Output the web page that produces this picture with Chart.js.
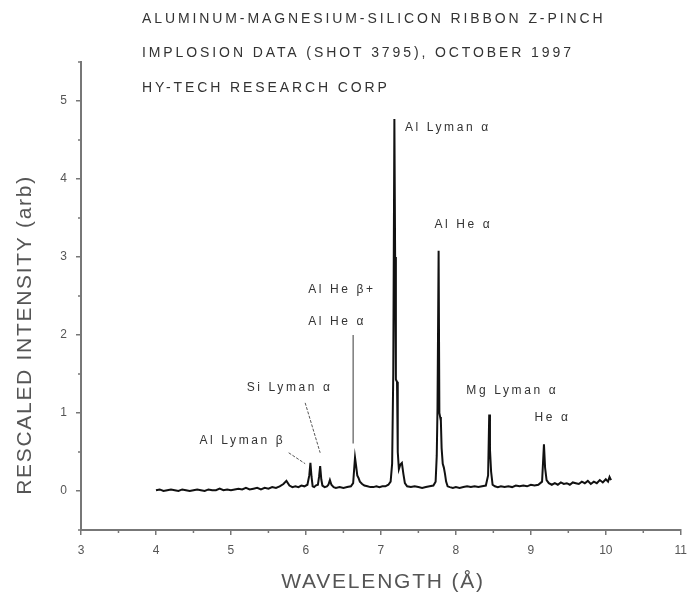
<!DOCTYPE html>
<html><head><meta charset="utf-8">
<script src="https://cdn.jsdelivr.net/npm/chart.js@4/dist/chart.umd.min.js"></script>
<style>html,body{margin:0;padding:0;background:#fff;}</style>
</head><body>
<canvas id="c" width="695" height="605"></canvas>
<script>
// ---- text ----
const titleLines = [
  "ALUMINUM-MAGNESIUM-SILICON RIBBON Z-PINCH",
  "IMPLOSION DATA (SHOT 3795), OCTOBER 1997",
  "HY-TECH RESEARCH CORP"
];
const xAxisTitle = "WAVELENGTH (Å)";
const yAxisTitle = "RESCALED INTENSITY (arb)";

// ---- ticks ----
const xTicks = [3, 4, 5, 6, 7, 8, 9, 10, 11];
const xMinorTicks = [3.5, 4.5, 5.5, 6.5, 7.5, 8.5, 9.5, 10.5];
const yTicks = [0, 1, 2, 3, 4, 5];
const yMinorTicks = [-0.5, 0.5, 1.5, 2.5, 3.5, 4.5, 5.5];

// ---- spectrum ----
const wavelength = [
  4.00,4.05,4.10,4.15,4.20,4.25,4.30,4.35,4.40,4.45,4.50,4.55,4.60,4.65,4.70,4.75,4.80,4.85,4.90,4.95,
  5.00,5.05,5.10,5.15,5.20,5.25,5.30,5.35,5.40,5.45,5.50,5.55,5.60,5.65,5.70,5.74,5.78,5.82,5.86,5.90,
  5.94,5.98,6.02,6.045,6.06,6.075,6.09,6.11,6.13,6.16,6.175,6.19,6.205,6.22,6.25,6.28,6.30,6.32,6.34,6.37,
  6.40,6.45,6.50,6.55,6.60,6.63,6.645,6.655,6.67,6.685,6.70,6.72,6.75,6.78,6.82,6.86,6.90,6.94,6.98,7.02,
  7.06,7.10,7.13,7.15,7.165,7.18,7.19,7.20,7.215,7.225,7.24,7.26,7.28,7.30,7.32,7.35,7.40,7.45,7.50,7.55,
  7.60,7.65,7.70,7.73,7.745,7.755,7.77,7.78,7.79,7.80,7.81,7.825,7.84,7.855,7.87,7.89,7.92,7.96,8.00,8.05,
  8.10,8.15,8.20,8.25,8.30,8.35,8.40,8.43,8.445,8.455,8.47,8.49,8.52,8.56,8.60,8.65,8.70,8.75,8.80,8.85,
  8.90,8.95,9.00,9.05,9.10,9.15,9.175,9.19,9.21,9.24,9.28,9.32,9.36,9.40,9.44,9.48,9.52,9.56,9.60,9.64,
  9.68,9.72,9.76,9.80,9.84,9.88,9.92,9.96,10.00,10.03,10.05,10.07
];
const intensity = [
  0.01,0.02,0.00,0.01,0.02,0.01,0.00,0.02,0.01,0.00,0.01,0.02,0.01,0.00,0.02,0.01,0.01,0.03,0.01,0.02,
  0.01,0.02,0.03,0.02,0.04,0.02,0.03,0.04,0.02,0.04,0.03,0.05,0.04,0.06,0.09,0.13,0.07,0.05,0.06,0.05,
  0.07,0.06,0.08,0.20,0.36,0.18,0.06,0.05,0.07,0.08,0.18,0.32,0.15,0.07,0.05,0.06,0.08,0.14,0.08,0.05,
  0.04,0.05,0.04,0.05,0.06,0.10,0.30,0.43,0.32,0.20,0.17,0.12,0.09,0.07,0.06,0.05,0.05,0.06,0.05,0.06,
  0.06,0.08,0.12,0.35,1.50,4.77,3.00,1.43,1.40,0.50,0.28,0.34,0.36,0.22,0.10,0.06,0.05,0.06,0.05,0.04,
  0.05,0.06,0.07,0.12,0.45,1.05,3.08,1.00,0.95,0.90,0.55,0.35,0.30,0.22,0.12,0.06,0.05,0.04,0.05,0.04,
  0.05,0.06,0.05,0.06,0.05,0.06,0.07,0.20,0.98,0.53,0.25,0.08,0.06,0.05,0.06,0.05,0.06,0.05,0.07,0.06,
  0.07,0.06,0.08,0.07,0.08,0.12,0.60,0.30,0.14,0.10,0.08,0.10,0.08,0.11,0.09,0.10,0.08,0.11,0.10,0.09,
  0.12,0.10,0.13,0.09,0.12,0.10,0.14,0.11,0.15,0.12,0.18,0.14
];

// ---- line identifications (data coordinates of label start) ----
const lineLabels = ["Al Lyman β", "Si Lyman α", "Al He β+", "Al He α", "Al Lyman α", "Al He α", "Mg Lyman α", "He α"];
const labelX = [4.58, 5.21, 6.03, 6.03, 7.32, 7.715, 8.14, 9.05];
const labelY = [0.65, 1.32, 2.575, 2.165, 4.66, 3.41, 1.29, 0.935];
// pointer lines [x1, y1, x2, y2] in data units
const pointerX1 = [5.77, 5.99, 6.63];
const pointerY1 = [0.49, 1.13, 2.00];
const pointerX2 = [5.99, 6.19, 6.63];
const pointerY2 = [0.35, 0.49, 0.61];

const AXIS_COLOR = '#777';
const TEXT_COLOR = '#333';

const decorPlugin = {
  id: 'decor',
  afterDraw(chart) {
    const ctx = chart.ctx;
    const xs = chart.scales.x, ys = chart.scales.y;
    ctx.save();
    // minor ticks
    ctx.strokeStyle = AXIS_COLOR;
    ctx.lineWidth = 1.5;
    ctx.beginPath();
    xMinorTicks.forEach(v => {
      const px = xs.getPixelForValue(v);
      ctx.moveTo(px, ys.bottom); ctx.lineTo(px, ys.bottom + 3);
    });
    yMinorTicks.forEach(v => {
      const py = ys.getPixelForValue(v);
      ctx.moveTo(xs.left, py); ctx.lineTo(xs.left - 3, py);
    });
    ctx.stroke();

    // title lines
    ctx.fillStyle = TEXT_COLOR;
    ctx.font = '14px Arial, "Liberation Sans", sans-serif';
    ctx.letterSpacing = '2.9px';
    ctx.textAlign = 'left';
    ctx.textBaseline = 'middle';
    const titleYs = [19, 53, 88];
    titleLines.forEach((t, i) => ctx.fillText(t, 142, titleYs[i]));

    // line labels
    ctx.font = '12px Arial, "Liberation Sans", sans-serif';
    ctx.letterSpacing = '2.6px';
    ctx.fillStyle = '#333';
    lineLabels.forEach((t, i) => {
      ctx.fillText(t, xs.getPixelForValue(labelX[i]), ys.getPixelForValue(labelY[i]));
    });

    // pointers
    ctx.strokeStyle = '#555';
    ctx.lineWidth = 1;
    ctx.setLineDash([3, 1.5]);
    ctx.beginPath();
    for (let i = 0; i < 2; i++) {
      ctx.moveTo(xs.getPixelForValue(pointerX1[i]), ys.getPixelForValue(pointerY1[i]));
      ctx.lineTo(xs.getPixelForValue(pointerX2[i]), ys.getPixelForValue(pointerY2[i]));
    }
    ctx.stroke();
    ctx.setLineDash([]);
    ctx.strokeStyle = '#666';
    ctx.lineWidth = 1.3;
    ctx.beginPath();
    ctx.moveTo(xs.getPixelForValue(pointerX1[2]), ys.getPixelForValue(pointerY1[2]));
    ctx.lineTo(xs.getPixelForValue(pointerX2[2]), ys.getPixelForValue(pointerY2[2]));
    ctx.stroke();

    // axis titles
    ctx.fillStyle = '#555';
    ctx.letterSpacing = '1.8px';
    ctx.font = '21px Arial, "Liberation Sans", sans-serif';
    ctx.textAlign = 'center';
    ctx.fillText(xAxisTitle, 383, 582);
    ctx.translate(25, 335);
    ctx.rotate(-Math.PI / 2);
    ctx.letterSpacing = '1.7px';
    ctx.font = '21px Arial, "Liberation Sans", sans-serif';
    ctx.fillText(yAxisTitle, 0, 0);
    ctx.restore();
  }
};

new Chart(document.getElementById('c'), {
  type: 'line',
  data: {
    datasets: [{
      data: wavelength.map((w, i) => ({ x: w, y: intensity[i] })),
      borderColor: '#111',
      borderWidth: 2,
      pointRadius: 0,
      tension: 0,
      fill: false
    }]
  },
  options: {
    responsive: false,
    animation: false,
    devicePixelRatio: 1,
    layout: { padding: { top: 62, right: 10, left: 0, bottom: 0 } },
    plugins: { legend: { display: false }, title: { display: false }, tooltip: { enabled: false } },
    scales: {
      x: {
        type: 'linear', min: 3, max: 11,
        afterBuildTicks: s => { s.ticks = xTicks.map(v => ({ value: v })); },
        afterFit: s => { s.height = 75; },
        grid: { display: true, drawOnChartArea: false, drawTicks: true, tickLength: 5, color: AXIS_COLOR, lineWidth: 1.5 },
        border: { display: true, color: AXIS_COLOR, width: 2 },
        ticks: { color: '#555', font: { family: 'Arial', size: 12 }, padding: 8, maxRotation: 0, autoSkip: false }
      },
      y: {
        type: 'linear', min: -0.5, max: 5.5,
        afterBuildTicks: s => { s.ticks = yTicks.map(v => ({ value: v })); },
        afterFit: s => { s.width = 81; },
        grid: { display: true, drawOnChartArea: false, drawTicks: true, tickLength: 5, color: AXIS_COLOR, lineWidth: 1.5 },
        border: { display: true, color: AXIS_COLOR, width: 2 },
        ticks: { color: '#555', font: { family: 'Arial', size: 12 }, padding: 9 }
      }
    }
  },
  plugins: [decorPlugin]
});
</script>
</body></html>
